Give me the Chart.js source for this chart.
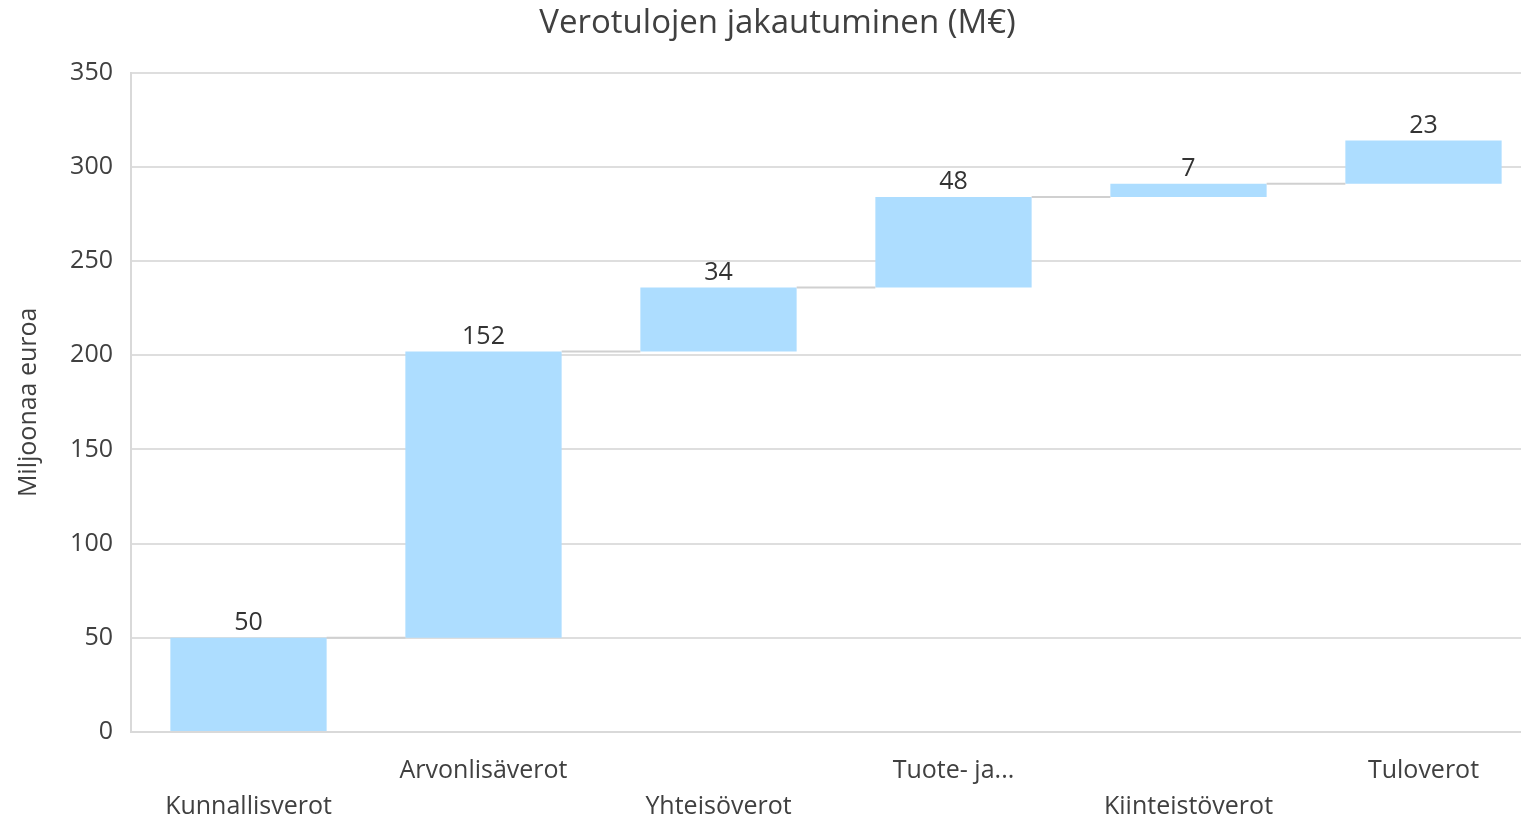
<!DOCTYPE html>
<html><head><meta charset="utf-8">
<script src="https://cdn.jsdelivr.net/npm/chart.js@4"></script>
<style>
html,body{margin:0;padding:0;overflow:hidden;background:#fff;}
#wrap{width:1556px;height:819px;position:relative;}
</style></head>
<body><div id="wrap"><canvas id="c"></canvas></div>
<script>
const categories = ['Kunnallisverot','Arvonlisäverot','Yhteisöverot','Tuote- ja...','Kiinteistöverot','Tuloverot'];
const values = [50,152,34,48,7,23];
const yTicks = [0,50,100,150,200,250,300,350];
const chartTitle = 'Verotulojen jakautuminen (M€)';
const yTitle = 'Miljoonaa euroa';

const ranges = [];
let run = 0;
for (const v of values) { ranges.push([run, run + v]); run += v; }
const labels = categories.map((c,i) => i % 2 === 0 ? ['', c] : [c, '']);

const FONT = "'Open Sans', 'Noto Sans', sans-serif";
const TXT = '#404040';

const waterfallPlugin = {
  id: 'waterfall',
  afterDatasetsDraw(chart) {
    const ctx = chart.ctx;
    const meta = chart.getDatasetMeta(0);
    const y = chart.scales.y;
    ctx.save();
    ctx.strokeStyle = '#d0d0d0';
    ctx.lineWidth = 2;
    for (let i = 0; i < meta.data.length - 1; i++) {
      const a = meta.data[i], b = meta.data[i+1];
      const yy = y.getPixelForValue(ranges[i][1]);
      ctx.beginPath();
      ctx.moveTo(a.x + a.width/2, yy);
      ctx.lineTo(b.x - b.width/2, yy);
      ctx.stroke();
    }
    ctx.fillStyle = '#333333';
    ctx.font = "25px " + FONT;
    ctx.textAlign = 'center';
    ctx.textBaseline = 'middle';
    meta.data.forEach((bar, i) => {
      const top = y.getPixelForValue(ranges[i][1]);
      ctx.fillText(String(values[i]), bar.x, top - 15);
    });
    ctx.restore();
  }
};

new Chart(document.getElementById('c'), {
  type: 'bar',
  data: {
    labels: labels,
    datasets: [{
      data: ranges,
      backgroundColor: '#ADDDFF',
      borderWidth: 0,
      barPercentage: 0.665,
      categoryPercentage: 1.0
    }]
  },
  options: {
    responsive: true,
    maintainAspectRatio: false,
    animation: false,
    layout: { padding: { left: 14, right: 15, top: 4, bottom: 0 } },
    plugins: {
      legend: { display: false },
      tooltip: { enabled: false },
      title: {
        display: true, text: chartTitle, color: TXT,
        font: { family: FONT, size: 33, weight: 'normal', lineHeight: 1.2 },
        padding: { top: 0, bottom: 29 }
      }
    },
    scales: {
      x: {
        grid: { display: false, drawTicks: false },
        border: { display: true, color: '#d9d9d9', width: 2 },
        afterFit(scale) { scale.height = 87; },
        ticks: {
          color: TXT, autoSkip: false, maxRotation: 0, minRotation: 0,
          padding: 21,
          font: { family: FONT, size: 25, lineHeight: 1.44 }
        }
      },
      y: {
        min: 0, max: 350,
        afterBuildTicks(scale) { scale.ticks = yTicks.map(v => ({ value: v })); },
        afterFit(scale) { scale.width = 117; },
        grid: { color: '#dedede', lineWidth: 2, drawTicks: false },
        border: { display: true, color: '#d9d9d9', width: 2 },
        ticks: {
          color: TXT, padding: 18,
          font: { family: FONT, size: 25 }
        },
        title: {
          display: true, text: yTitle, color: TXT,
          font: { family: FONT, size: 25 },
          padding: { top: 0, bottom: 24 }
        }
      }
    }
  },
  plugins: [waterfallPlugin]
});
</script>
</body></html>
